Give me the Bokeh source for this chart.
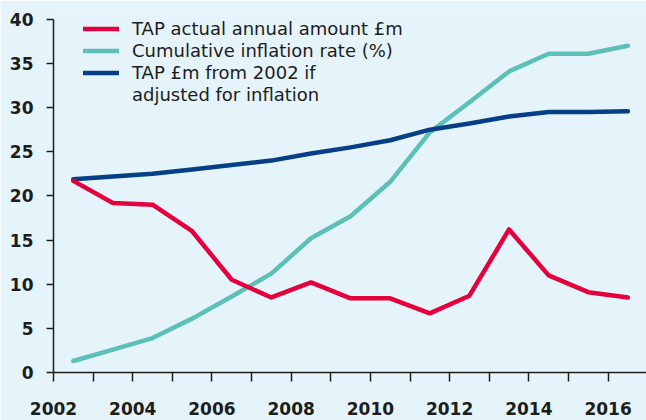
from bokeh.plotting import figure
from bokeh.models import FixedTicker, Legend, LegendItem
from bokeh.embed import file_html
from bokeh.resources import INLINE

# ---- data ----
years = [2002.5, 2003.5, 2004.5, 2005.5, 2006.5, 2007.5, 2008.5, 2009.5,
         2010.5, 2011.5, 2012.5, 2013.5, 2014.5, 2015.5, 2016.5]
tap_actual = [21.7, 19.2, 19.0, 16.0, 10.5, 8.5, 10.2, 8.4, 8.4, 6.7, 8.7, 16.2, 11.0, 9.1, 8.5]
inflation = [1.3, 2.6, 3.9, 6.1, 8.6, 11.2, 15.2, 17.7, 21.6, 27.2, 30.6, 34.1, 36.1, 36.1, 37.0]
tap_adjusted = [21.9, 22.2, 22.5, 23.0, 23.5, 24.0, 24.8, 25.5, 26.3, 27.5, 28.2, 29.0, 29.5, 29.5, 29.6]
x_ticks = list(range(2002, 2018))
x_labels = {y: (str(y) if y % 2 == 0 else "") for y in x_ticks}
y_ticks = [0, 5, 10, 15, 20, 25, 30, 35, 40]
names = ["TAP actual annual amount £m", "Cumulative inflation rate (%)",
         "TAP £m from 2002 if", "adjusted for inflation"]

RED, TEAL, NAVY = "#e4003d", "#5cc0b6", "#073f86"
BG = "#e5f4fb"
INK = "#1d1d1b"

p = figure(width=646, height=420, output_backend="svg", toolbar_location=None,
           x_range=(2002, 2016.97), y_range=(0, 40.66),
           min_border_left=53, min_border_right=0, min_border_top=13, min_border_bottom=48)
p.background_fill_color = BG
p.border_fill_color = BG
p.outline_line_color = None
p.grid.visible = False

lt = p.line(years, inflation, line_color=TEAL, line_width=4.5, line_cap="round", line_join="round")
ln = p.line(years, tap_adjusted, line_color=NAVY, line_width=4.5, line_cap="round", line_join="round")
lr = p.line(years, tap_actual, line_color=RED, line_width=4.5, line_cap="round", line_join="round")
# invisible renderer used only for the legend's second text line
blank = p.line(years, tap_adjusted, line_alpha=0)

for ax in (p.xaxis[0], p.yaxis[0]):
    ax.axis_line_color = INK
    ax.axis_line_width = 1.5
    ax.major_tick_line_color = INK
    ax.major_tick_line_width = 1.5
    ax.major_tick_in = 0
    ax.minor_tick_line_color = None
    ax.major_label_text_font = "DejaVu Sans"
    ax.major_label_text_font_style = "bold"
    ax.major_label_text_font_size = "17px"
    ax.major_label_text_color = INK

p.xaxis.ticker = FixedTicker(ticks=x_ticks)
p.xaxis.major_label_overrides = x_labels
p.xaxis.major_tick_out = 9
p.xaxis.major_label_standoff = 20

p.yaxis.ticker = FixedTicker(ticks=y_ticks)
p.yaxis.bounds = (0, 40)
p.yaxis.major_tick_out = 7
p.yaxis.major_label_standoff = 13

legend = Legend(items=[LegendItem(label=names[0], renderers=[lr]),
                       LegendItem(label=names[1], renderers=[lt]),
                       LegendItem(label=names[2], renderers=[ln]),
                       LegendItem(label=names[3], renderers=[blank])],
                location=(30, 267), padding=0, margin=0, spacing=1,
                glyph_width=36, glyph_height=19, label_height=19, label_standoff=13,
                label_text_font="DejaVu Sans", label_text_font_size="18px",
                label_text_color=INK,
                border_line_color=None, background_fill_alpha=0)
p.add_layout(legend)

open("out.html", "w").write(file_html(p, INLINE))
